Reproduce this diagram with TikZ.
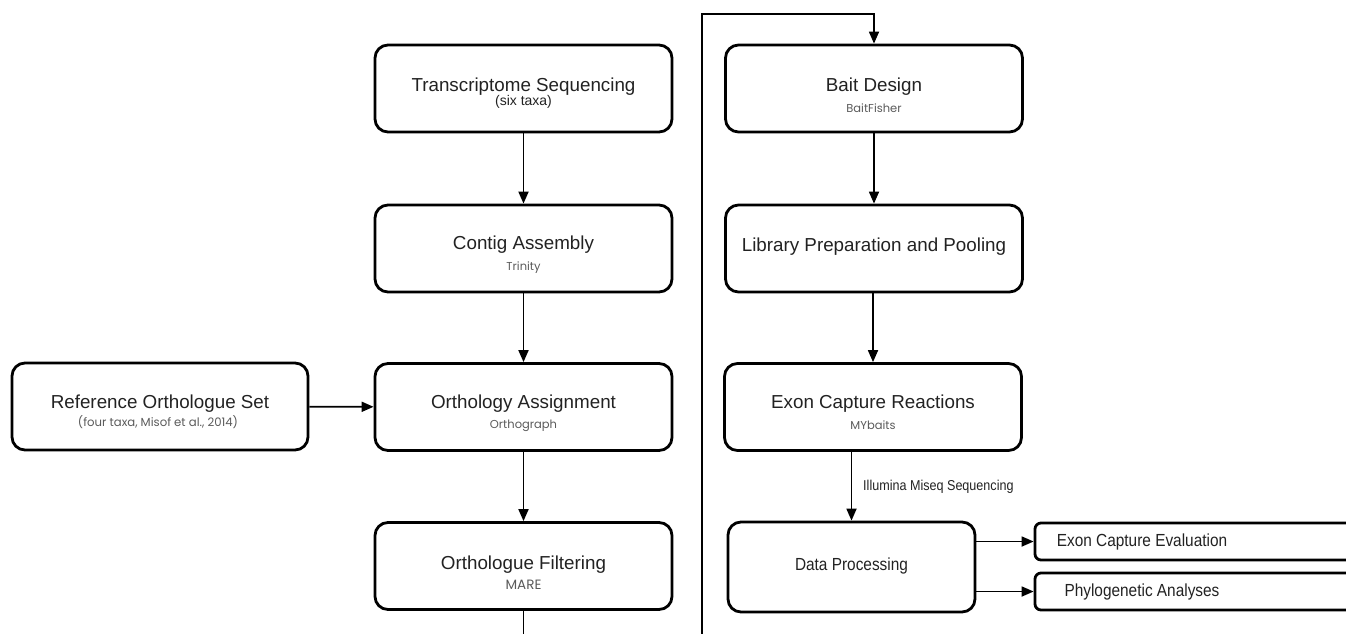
\documentclass[tikz,border=0pt]{standalone}
\usepackage{fontspec}
\setmainfont{Liberation Sans}
\newfontfamily\geofont{Poppins}
\newfontfamily\narrowfont[FakeStretch=0.88]{Liberation Sans}
\usetikzlibrary{arrows.meta,calc}
\definecolor{txt}{HTML}{222222}
\definecolor{subtxt}{HTML}{5A5A5A}
\tikzset{
  box/.style={draw, line width=2.8pt, rounded corners=13pt, minimum width=297pt, minimum height=87pt, inner sep=0pt},
  smallbox/.style={draw, line width=2.8pt, rounded corners=6pt, minimum width=325pt, minimum height=37pt, inner sep=0pt},
  arr/.style={line width=1.8pt, -{Triangle[length=12pt,width=10pt]}},
  plain/.style={line width=1.8pt},
  title/.style={text=txt, font=\fontsize{18.8}{20}\selectfont, inner sep=0pt},
  sub/.style={text=subtxt, font=\geofont\fontsize{11.5}{13}\selectfont, inner sep=0pt},
  subarial/.style={text=txt, font=\fontsize{14}{16}\selectfont, inner sep=0pt},
  ntitle/.style={text=txt, font=\narrowfont\fontsize{17.5}{20}\selectfont, inner sep=0pt},
}
\begin{document}
\begin{tikzpicture}[x=1pt,y=-1pt]
\useasboundingbox (0,0) rectangle (1346,633);
% left column
\node[box] (ts) at (523.5,88.5) {};
\node[box] (ca) at (523.5,248.5) {};
\node[box] (oa) at (523.5,407) {};
\node[box] (of) at (523.5,566) {};
\node[box, minimum width=296pt] (ro) at (160,406.5) {};
% right column
\node[box] (bd) at (874,88.5) {};
\node[box] (lp) at (874,248.5) {};
\node[box] (ec) at (873,407) {};
\node[box, minimum width=247pt, minimum height=90pt] (dp) at (851.5,567) {};
\node[smallbox] (ev) at (1197.5,541.5) {};
\node[smallbox] (ph) at (1197.5,591.5) {};
% texts
\node[title] (tsT) at ($(ts.center)+(0,-2)$) {Transcriptome Sequencing};
\node[subarial] (tsS) at ($(ts.center)+(0,13)$) {(six taxa)};
\node[title] (caT) at ($(ca.center)+(0,-3.5)$) {Contig Assembly};
\node[sub] (caS) at ($(ca.center)+(0,19.5)$) {Trinity};
\node[title] (oaT) at ($(oa.center)+(0,-3.5)$) {Orthology Assignment};
\node[sub] (oaS) at ($(oa.center)+(0,19)$) {Orthograph};
\node[title] (ofT) at ($(of.center)+(0,-1.5)$) {Orthologue Filtering};
\node[sub, font=\geofont\fontsize{13.5}{15}\selectfont] (ofS) at ($(of.center)+(0,19)$) {MARE};
\node[title] (roT) at ($(ro.center)+(0,-3)$) {Reference Orthologue Set};
\node[sub, font=\geofont\fontsize{11.7}{13}\selectfont] (roS) at ($(ro.center)+(-2,16)$) {(four taxa, Misof et al., 2014)};
\node[title] (bdT) at ($(bd.center)+(0,-2)$) {Bait Design};
\node[sub] (bdS) at ($(bd.center)+(0,19.5)$) {BaitFisher};
\node[title] (lpT) at ($(lp.center)+(0,-2)$) {Library Preparation and Pooling};
\node[title] (ecT) at ($(ec.center)+(0,-3.5)$) {Exon Capture Reactions};
\node[sub] (ecS) at ($(ec.center)+(0,18)$) {MYbaits};
\node[ntitle] (dpT) at ($(dp.center)+(0,-1.5)$) {Data Processing};
\node[ntitle] (evT) at (1142,542) {Exon Capture Evaluation};
\node[ntitle] (phT) at (1142,592) {Phylogenetic Analyses};
\node[text=txt, font=\narrowfont\fontsize{14.3}{16}\selectfont, inner sep=0pt, anchor=west] (ill) at (863,487) {Illumina Miseq Sequencing};
% connectors
\draw[arr] (ts) -- (ca);
\draw[arr] (ca) -- (oa);
\draw[arr] (oa) -- (of);
\draw[arr] (ro) -- (oa);
\coordinate (fb) at (523.5,640);
\draw[plain] (of.south) -- (fb);
\coordinate (lb) at (702,640);
\coordinate (lt) at (702,14);
\draw[arr] (lb) -- (lt) -| (bd.north);
\draw[arr] (bd) -- (lp);
\draw[arr] (lp.south -| ec.north) -- (ec);
\draw[arr] (ec.south -| dp.north) -- (dp.north);
\draw[arr] (dp.east |- ev.west) -- (ev.west);
\draw[arr] (dp.east |- ph.west) -- (ph.west);
\end{tikzpicture}
\end{document}
